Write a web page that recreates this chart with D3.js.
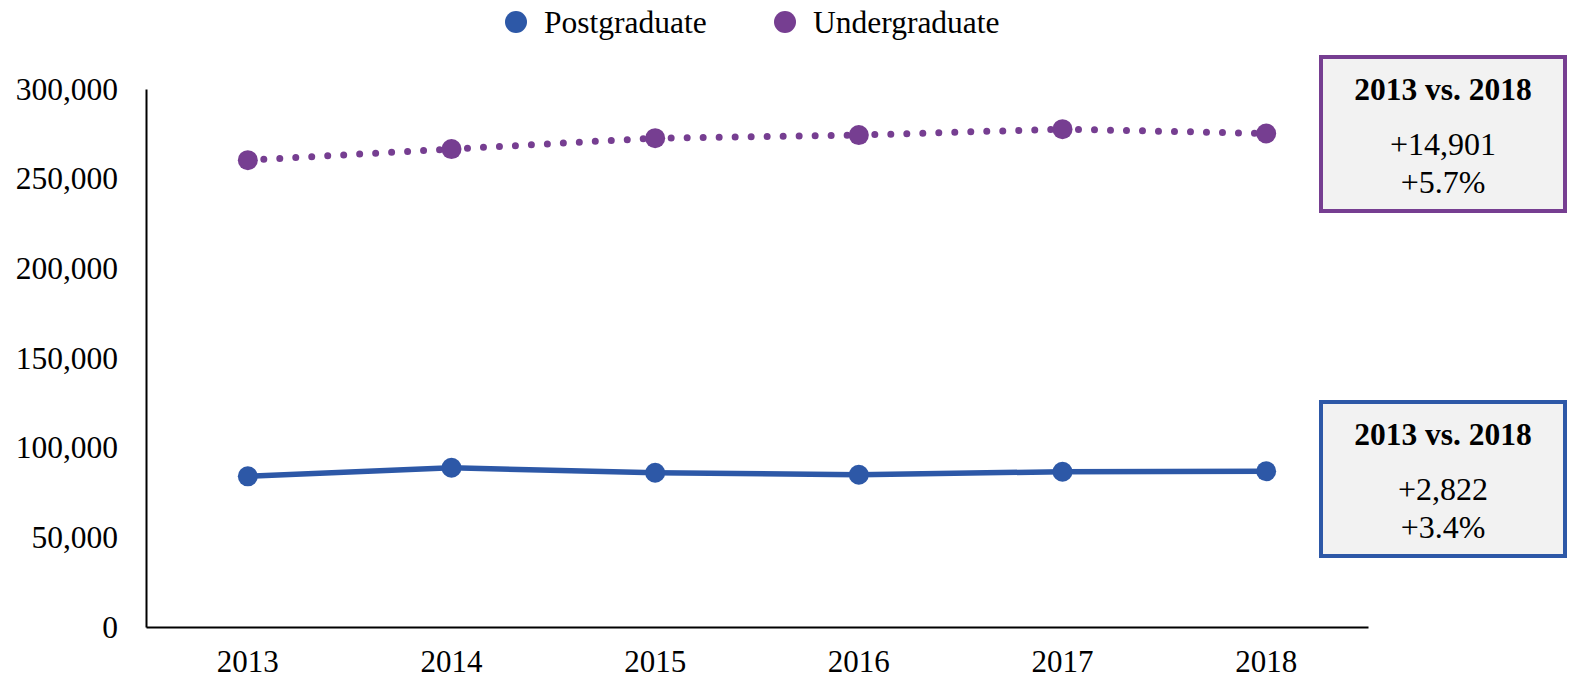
<!DOCTYPE html>
<html><head><meta charset="utf-8">
<script src="https://cdn.jsdelivr.net/npm/d3@7"></script>
<style>body{margin:0;background:#fff}svg{display:block}text{font-family:"Liberation Serif","Times New Roman",serif;fill:#000}</style>
</head><body><svg id="c" width="1569" height="678"></svg>
<script>
const years = ["2013","2014","2015","2016","2017","2018"];
const postgraduate = [84000, 88800, 86000, 84900, 86600, 86822];
const undergraduate = [260300, 266500, 272600, 274300, 277600, 275201];
const yTicks = [0, 50000, 100000, 150000, 200000, 250000, 300000];
const seriesNames = ["Postgraduate", "Undergraduate"];
const boxTitle = "2013 vs. 2018";
const ugChange = ["+14,901", "+5.7%"];
const pgChange = ["+2,822", "+3.4%"];

const blue = "#2D58A7", purple = "#763E91";
const svg = d3.select("#c");
const x = d3.scaleBand().domain(years).range([146, 1368]);
const y = d3.scaleLinear().domain([0, 300000]).range([627, 89]);
const cx = d => x(d) + x.bandwidth()/2;

// axes
const yAx = svg.append("g").attr("transform","translate(146,0)")
  .call(d3.axisLeft(y).tickValues(yTicks).tickSize(0).tickPadding(28).tickFormat(d3.format(",")));
yAx.select(".domain").attr("stroke","#000").attr("stroke-width",2);
yAx.selectAll("text").style("font-size","31.5px").style("font-family","Liberation Serif").attr("fill","#000");
const xAx = svg.append("g").attr("transform","translate(0,627)")
  .call(d3.axisBottom(x).tickSize(0).tickPadding(23));
xAx.select(".domain").attr("stroke","#000").attr("stroke-width",2);
xAx.selectAll("text").style("font-size","31px").style("font-family","Liberation Serif").attr("fill","#000");

// undergraduate dotted segments
for (let i = 0; i < years.length-1; i++) {
  svg.append("line")
    .attr("x1", cx(years[i])).attr("y1", y(undergraduate[i]))
    .attr("x2", cx(years[i+1])).attr("y2", y(undergraduate[i+1]))
    .attr("stroke", purple).attr("stroke-width", 7).attr("stroke-linecap","round")
    .attr("stroke-dasharray","0 16");
}
svg.selectAll(".ug").data(undergraduate).enter().append("circle")
  .attr("cx",(d,i)=>cx(years[i])).attr("cy",d=>y(d)).attr("r",10).attr("fill",purple);

// postgraduate solid
svg.append("path").datum(postgraduate)
  .attr("d", d3.line().x((d,i)=>cx(years[i])).y(d=>y(d)))
  .attr("fill","none").attr("stroke",blue).attr("stroke-width",5.5);
svg.selectAll(".pg").data(postgraduate).enter().append("circle")
  .attr("cx",(d,i)=>cx(years[i])).attr("cy",d=>y(d)).attr("r",10).attr("fill",blue);

// legend
const legend = [{n:seriesNames[0],c:blue,x:516},{n:seriesNames[1],c:purple,x:785}];
legend.forEach(l=>{
  svg.append("circle").attr("cx",l.x).attr("cy",22).attr("r",11).attr("fill",l.c);
  svg.append("text").attr("x",l.x+28).attr("y",33).style("font-size","31.5px").text(l.n);
});

// boxes
function box(y0, col, lines){
  svg.append("rect").attr("x",1321).attr("y",y0).attr("width",244).attr("height",154)
    .attr("fill","#F2F2F2").attr("stroke",col).attr("stroke-width",4);
  svg.append("text").attr("x",1443).attr("y",y0+43).attr("text-anchor","middle")
    .style("font-size","31.5px").style("font-weight","bold").text(boxTitle);
  lines.forEach((t,i)=>svg.append("text").attr("x",1443).attr("y",y0+98+i*38)
    .attr("text-anchor","middle").style("font-size","32px").text(t));
}
box(57, purple, ugChange);
box(402, blue, pgChange);
</script></body></html>
